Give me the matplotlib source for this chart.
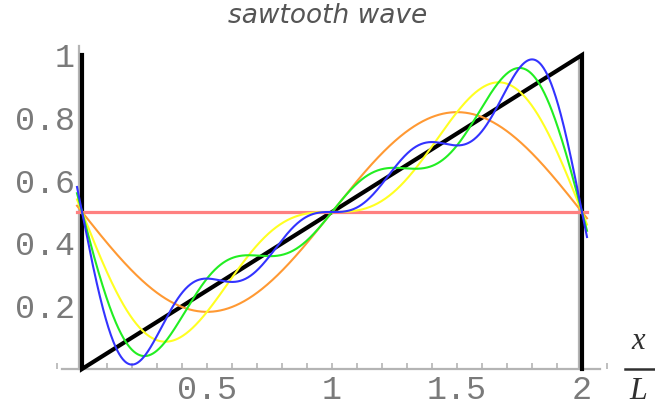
import numpy as np
import matplotlib
matplotlib.use("Agg")
import matplotlib.pyplot as plt
from matplotlib.ticker import MultipleLocator, FixedLocator

# ---- data ----
title = "sawtooth wave"
mean_value = 0.5                                  # red constant line
harmonic_amps = [0.318, 0.159, 0.106, 0.080]      # sine amplitudes of harmonics 1..4
curve_colors = ["#ff9933", "#ffff22", "#22ee22", "#3333ff"]  # partial sums N=1..4
saw_x = [0, 0, 2, 2]
saw_y = [1, 0, 1, 0]
x_ticks = [0.5, 1, 1.5, 2]
x_tick_labels = ["0.5", "1", "1.5", "2"]
y_ticks = [0.2, 0.4, 0.6, 0.8, 1.0]
y_tick_labels = ["0.2", "0.4", "0.6", "0.8", "1"]

W, H = 655, 409
fig = plt.figure(figsize=(W / 100, H / 100), dpi=100)
fig.patch.set_facecolor("white")
# axes placed so x=0 -> 82px, x=2 -> 582px, y=0 -> 369px, y=1 -> 55px
ax = fig.add_axes([57 / W, 24.3 / H, 550 / W, 345.4 / H])
ax.set_xlim(-0.1, 2.1)
ax.set_ylim(-0.05, 1.05)

gray = "#b4b4b4"
for s in ["top", "right"]:
    ax.spines[s].set_visible(False)
ax.spines["bottom"].set_position(("data", 0))
ax.spines["bottom"].set_bounds(-0.08, 2.07)
ax.spines["bottom"].set_color(gray)
ax.spines["bottom"].set_linewidth(1.6)
ax.spines["left"].set_position(("data", -0.013))
ax.spines["left"].set_bounds(0, 1.03)
ax.spines["left"].set_color(gray)
ax.spines["left"].set_linewidth(1.6)

mono = "Liberation Mono"
lab_col = "#7a7a7a"
ax.xaxis.set_major_locator(FixedLocator(x_ticks))
ax.set_xticklabels(x_tick_labels, fontfamily=mono, fontsize=24, color=lab_col)
ax.xaxis.set_minor_locator(MultipleLocator(0.1))
ax.tick_params(axis="x", which="both", direction="in", length=4, width=1.2,
               color=gray, pad=4)
ax.set_yticks(y_ticks)
ax.set_yticklabels(y_tick_labels, fontfamily=mono, fontsize=24, color=lab_col)
ax.tick_params(axis="y", which="both", length=0, pad=3)

# sampling grid for the curves
x = np.linspace(-0.02, 2.02, 800)

# gray shadow at right vertical edge
ax.plot([saw_x[2] - 0.012, saw_x[3] - 0.012], [saw_y[2], saw_y[3]],
        color=gray, lw=1.6, zorder=2, solid_capstyle="butt")
# sawtooth
ax.plot(saw_x, saw_y, color="black", lw=3.0, zorder=3, solid_joinstyle="miter")

# constant term
ax.plot(x, np.full_like(x, mean_value), color="#ff8080", lw=2.3, zorder=4)

# partial Fourier sums
partial = np.full_like(x, mean_value)
for n, (amp, col) in enumerate(zip(harmonic_amps, curve_colors), start=1):
    partial = partial - amp * np.sin(n * np.pi * x)
    ax.plot(x, partial.copy(), color=col, lw=1.5, zorder=4 + n)

# title
fig.text(328 / W, 1 - 16 / H, title, ha="center", va="center",
         fontsize=19, fontstyle="italic", family="DejaVu Sans", color="#555555")

# x/L axis label as a fraction
serif = "Liberation Serif"
ax.text(2.224, 0.086, "x", ha="center", va="center", fontsize=22,
        fontstyle="italic", family=serif, color="#303030", clip_on=False)
ax.text(2.224, -0.073, "L", ha="center", va="center", fontsize=23,
        fontstyle="italic", family=serif, color="#303030", clip_on=False)
ax.plot([2.172, 2.292], [0, 0], color="#303030", lw=1.8, clip_on=False)

fig.savefig("out.png", dpi=100)
